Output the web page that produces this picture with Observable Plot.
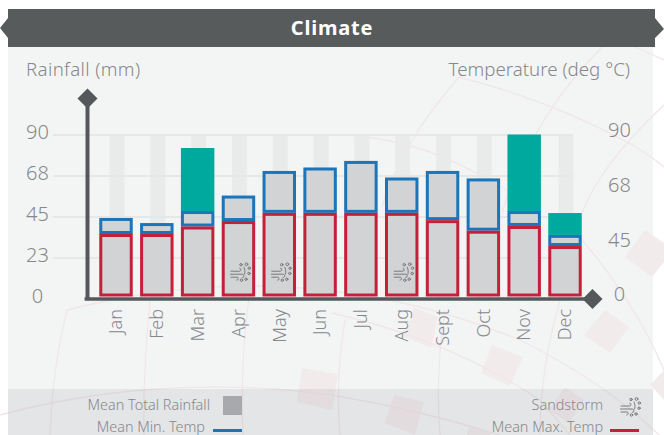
<!DOCTYPE html>
<html>
<head>
<meta charset="utf-8">
<script src="https://cdn.jsdelivr.net/npm/d3@7"></script>
<script src="https://cdn.jsdelivr.net/npm/@observablehq/plot@0.6"></script>
<style>
  html, body { margin: 0; padding: 0; background: #fff; }
  #page { position: relative; width: 664px; height: 435px; overflow: hidden; font-family: "Noto Sans", sans-serif; font-weight: 300; color: #85888c; }
  #page > * { position: absolute; }
  #panel { left: 8px; top: 47px; width: 645px; height: 388px; background: #f3f5f5; }
  #deco { left: 0; top: 0; }
  #band { left: 8px; top: 389px; width: 645px; height: 46px; background: rgba(88,92,100,.1); }
  #header { left: 0; top: 9px; width: 664px; height: 38px; background: #575b5c;
    clip-path: polygon(8px 0, 655px 0, 655px 9px, 664px 20px, 655px 29px, 655px 38px, 8px 38px, 8px 29px, 0 19px, 8px 9px);
    color: #fff; font-weight: 700; font-size: 20px; letter-spacing: 0.8px; line-height: 38px; text-align: center; }
  .axt { font-size: 18.7px; line-height: 24px; top: 57px; white-space: nowrap; }
  .leg { font-size: 14.4px; line-height: 16px; white-space: nowrap; text-align: right; }
  #plot { left: 0; top: 0; }
  #plot text { font-weight: 300; }
</style>
</head>
<body>
<div id="page">
  <div id="panel"></div>
  <svg id="deco" width="664" height="435" viewBox="0 0 664 435" fill="none" stroke="#f1e6e8" stroke-width="1.3">
    <g fill="#f2ebec" stroke="none">
      <polygon points="625,257 645,230 664,243 664,262 652,277"/>
      <polygon points="605,310 629,327 610,353 584,335"/>
      <polygon points="492,345 523,357 510,386 481,373"/>
      <polygon points="414,307 438,317 431,348 404,337"/>
      <polygon points="394,395 424,402 415,435 385,423"/>
      <polygon points="565,387 584,400 569,423 549,410"/>
      <polygon points="302,368 338,374 332,410 297,402"/>
      <polygon points="650,385 664,370 664,400"/>
      <polygon points="469,427 492,433 490,435 467,435"/>
    </g>
    <path d="M67 310 Q 300 250 520 340 Q 610 385 664 440"/>
    <path d="M0 415 Q 160 372 332 395 Q 420 410 500 435"/>
    <path d="M67 310 Q 52 370 50 435"/>
    <path d="M150 300 Q 143 370 144 435"/>
    <path d="M250 290 Q 240 360 243 435"/>
    <path d="M459 77 Q 549 100 629 143 Q 650 155 664 167"/>
    <path d="M332 135 Q 409 135 480 175 Q 520 195 539 220"/>
    <path d="M459 77 Q 400 145 382 207"/>
    <path d="M602 47 Q 530 120 502 213"/>
    <path d="M664 105 Q 600 165 582 213"/>
    <path d="M635 47 L 664 60"/>
    <path d="M332 313 Q 450 340 540 400 L 570 435"/>
    <path d="M560 215 Q 630 290 664 370"/>
    <path d="M345 320 Q 335 380 340 435"/>
    <path d="M445 310 Q 435 375 440 435"/>
    <path d="M560 300 Q 540 370 540 435"/>
  </svg>
  <div id="band"></div>
  <div id="header">Climate</div>
  <div class="axt" style="left:26px; letter-spacing:.35px">Rainfall (mm)</div>
  <div class="axt" style="right:34px">Temperature (deg °C)</div>
  <div class="leg" style="right:454px; top:397px">Mean Total Rainfall</div>
  <div style="left:223px; top:396px; width:19px; height:19px; background:#a7a9ac"></div>
  <div class="leg" style="right:459px; top:419px">Mean Min. Temp</div>
  <div style="left:213px; top:429px; width:29px; height:3px; background:#1b75bb"></div>
  <div class="leg" style="right:61px; top:397px">Sandstorm</div>
  <img id="legicon" style="left:620px; top:397px" width="21" height="20" alt="">
  <div class="leg" style="right:61px; top:419px">Mean Max. Temp</div>
  <div style="left:610px; top:429px; width:29px; height:3px; background:#c5203a"></div>
  <div id="plot"></div>
</div>
<script>
const months = ["Jan","Feb","Mar","Apr","May","Jun","Jul","Aug","Sept","Oct","Nov","Dec"];
const maxTemp = [35.4,35.4,39.5,42.5,47,47,47,47,43,37.2,39.8,28.8];
const minTemp = [44.2,41.4,48,56.5,70,71.9,75.5,66.4,70,65.9,48,34.9];
const rainfallExtra = [null,null,82.6,null,null,null,null,null,null,null,90,46.9];
const sandstormMonths = ["Apr","May","Aug"];
const gridValues = [90,67.5,45,22.5];
const leftTickPositions = [90,67.5,45,22.5,0];
const leftTickLabels = ["90","68","45","23","0"];
const rightTickPositions = [90,60,30,0];
const rightTickLabels = ["90","68","45","0"];

const iconSvg = `<svg xmlns="http://www.w3.org/2000/svg" viewBox="0 0 21 20" fill="none" stroke="#6d7072" stroke-width="0.9" stroke-linecap="round"><path d="M1 9H9.5c2 0 2-3 .3-3"/><path d="M0.5 12H12c2.5 0 2.6 3.4.4 3.4"/><path d="M1 15H7c1.8 0 1.8 3-.2 3"/><circle cx="11" cy="2.5" r="1.2"/><circle cx="16.5" cy="2" r="1.4"/><circle cx="19.3" cy="6" r="1.2"/><circle cx="19" cy="11.2" r="1.2"/><circle cx="16" cy="17" r="1.2"/><circle cx="11.5" cy="18" r="1.2"/><path d="M14 5c1 2.5 1.4 4.5.6 7"/></svg>`;
const iconSrc = "data:image/svg+xml," + encodeURIComponent(iconSvg);
document.getElementById("legicon").src = iconSrc;

const rows = months.map((m, i) => ({month: m, max: maxTemp[i], min: minTemp[i], extra: rainfallExtra[i]}));
const ink = "#54585a", tickInk = "#85888c";

const chart = Plot.plot({
  width: 664, height: 435,
  marginTop: 134.5, marginBottom: 136.5, marginLeft: 95.6, marginRight: 78.6,
  style: {background: "transparent", fontFamily: "'Noto Sans', sans-serif", color: tickInk},
  x: {domain: months, paddingInner: 0.18, paddingOuter: 0.09, round: false, label: null},
  y: {domain: [0, 90], axis: null, label: null},
  marks: [
    Plot.barY(months, {x: d => d, y: () => 90, fill: "#e9ebeb", insetLeft: 10.25, insetRight: 8.25}),
    Plot.ruleY(gridValues, {stroke: "#e6e8e8", strokeWidth: 2, insetLeft: -42.6, insetRight: 12.4}),
    Plot.barY(rows.filter(d => d.extra != null), {x: "month", y1: "min", y2: "extra", fill: "#00a99d"}),
    Plot.barY(rows, {x: "month", y1: "max", y2: "min", fill: "#d1d3d4", stroke: "#1b75bb", strokeWidth: 3, inset: 1.5}),
    Plot.barY(rows, {x: "month", y1: 0, y2: "max", fill: "#d1d3d4", stroke: "#c5203a", strokeWidth: 3, insetLeft: 1.5, insetRight: 1.5, insetTop: 1.5, insetBottom: 3.5}),
    Plot.image(sandstormMonths, {x: d => d, y: () => 14.7, src: () => iconSrc, width: 21, height: 20, dx: 1.5}),
    Plot.ruleY([0], {stroke: ink, strokeWidth: 3.5, insetLeft: -11, insetRight: -4}),
    Plot.ruleX(["Jan"], {y1: 0, y2: 110, stroke: ink, strokeWidth: 4, dx: -29}),
    Plot.dot(["Jan"], {x: d => d, y: () => 110, symbol: "diamond2", r: 9, fill: ink, dx: -29}),
    Plot.dot(["Dec"], {x: d => d, y: () => 0, symbol: "diamond2", r: 9, fill: ink, dx: 27}),
    Plot.axisX({anchor: "bottom", tickSize: 0, tickPadding: 10, tickRotate: -90, fontSize: 18, fill: tickInk, label: null}),
    Plot.text(leftTickPositions, {y: d => d, text: (d, i) => leftTickLabels[i], frameAnchor: "left", dx: -58.6, dy: -2.5, textAnchor: "middle", fontSize: 20, fill: tickInk}),
    Plot.text(rightTickPositions, {y: d => d, text: (d, i) => rightTickLabels[i], frameAnchor: "right", dx: 33.6, dy: -4, textAnchor: "middle", fontSize: 20, fill: tickInk})
  ]
});
document.getElementById("plot").appendChild(chart);
</script>
</body>
</html>
